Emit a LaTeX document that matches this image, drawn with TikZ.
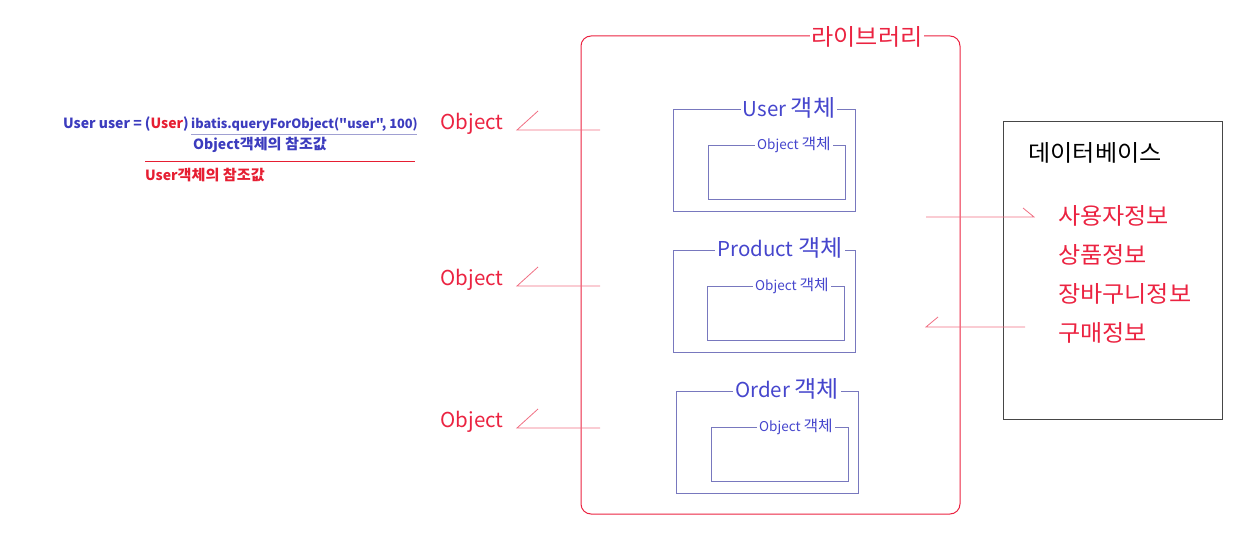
\documentclass[tikz,border=0pt]{standalone}
\usepackage{fontspec}
\setmainfont{Noto Sans CJK KR}
\newfontfamily\ko{Noto Sans CJK KR}[Scale=1.12, FakeStretch=1.05]
\newfontfamily\kos{Noto Sans CJK KR}[Scale=1.04, FakeStretch=1.04]
\newfontfamily\codefont{Noto Sans CJK KR}[Ligatures=TeXOff]
\definecolor{libred}{RGB}{235,35,65}
\definecolor{pinkline}{RGB}{240,110,130}
\definecolor{objblue}{RGB}{70,70,205}
\definecolor{boxline}{RGB}{120,120,190}
\definecolor{codeblue}{RGB}{60,60,190}
\definecolor{codered}{RGB}{230,30,50}
\definecolor{dbgray}{RGB}{70,70,70}

\begin{document}
\begin{tikzpicture}[x=1pt, y=-1pt,
  bigtext/.style={inner sep=2pt, font=\fontsize{20.5}{23}\selectfont},
  boxtitle/.style={bigtext, fill=white, text=objblue},
  smalltitle/.style={fill=white, inner sep=2pt, text=objblue, font=\fontsize{13.5}{15}\selectfont},
  codetext/.style={inner sep=0pt, anchor=base west, font=\bfseries\fontsize{14}{16}\selectfont},
  objbox/.style={draw=boxline, line width=0.8pt},
  pink/.style={draw=pinkline, line width=0.8pt}]

  \useasboundingbox (0,0) rectangle (1251,540);

  % Code line with references
  \node[codetext, text=codeblue] (cast) at (63,129)
    {User user = (\textcolor{codered}{User})};
  \node[codetext, text=codeblue, font=\codefont\bfseries\fontsize{12.8}{16}\selectfont] (call) at (191,129)
    {ibatis.queryForObject("user", 100)};
  \coordinate (callL) at (191,135);
  \coordinate (callR) at (417,135);
  \draw[boxline!70, line width=1pt] (callL) -- (callR);
  \node[codetext, text=codeblue] (objref) at (193,150) {Object{\kos 객체의 참조값}};
  \coordinate (castL) at (145,161);
  \coordinate (castR) at (415,161);
  \draw[codered, line width=0.8pt] (castL) -- (castR);
  \node[codetext, text=codered] (userref) at (145,181) {User{\kos 객체의 참조값}};

  % Library
  \draw[libred, line width=1pt, rounded corners=10pt] (581,36) rectangle (960,514);
  \node[bigtext, fill=white, text=libred] (lib) at (867,37) {\ko 라이브러리};

  % User
  \draw[objbox] (673,109) rectangle (855,211);
  \node[boxtitle] (user) at (789,108) {User {\ko 객체}};
  \draw[objbox] (708,145) rectangle (845,199);
  \node[smalltitle] (userobj) at (794,145) {Object {\ko 객체}};

  % Product
  \draw[objbox] (673,250) rectangle (855,352);
  \node[boxtitle] (product) at (780,248) {Product {\ko 객체}};
  \draw[objbox] (707,286) rectangle (844,340);
  \node[smalltitle] (productobj) at (792,286) {Object {\ko 객체}};

  % Order
  \draw[objbox] (676,391) rectangle (858,493);
  \node[boxtitle] (order) at (787,389) {Order {\ko 객체}};
  \draw[objbox] (711,427) rectangle (848,481);
  \node[smalltitle] (orderobj) at (796,427) {Object {\ko 객체}};

  % Object labels
  \node[bigtext, text=libred] (obj1) at (472,124) {Object};
  \node[bigtext, text=libred] (obj2) at (472,280) {Object};
  \node[bigtext, text=libred] (obj3) at (472,422) {Object};
  \coordinate (in1) at (600,130);
  \coordinate (in2) at (600,286);
  \coordinate (in3) at (600,428);
  \coordinate (tip1) at (517,130);
  \coordinate (tip2) at (517,286);
  \coordinate (tip3) at (517,428);
  \draw[pink] (in1) -- (tip1) -- ++(21,-19);
  \draw[pink] (in2) -- (tip2) -- ++(21,-19);
  \draw[pink] (in3) -- (tip3) -- ++(21,-19);

  % Database
  \draw[dbgray, line width=0.8pt] (1003,121) rectangle (1222,419);
  \node[bigtext] (db) at (1095,153) {\ko 데이터베이스};
  \node[bigtext, text=libred, anchor=west] (info1) at (1056,216) {\ko 사용자정보};
  \node[bigtext, text=libred, anchor=west] (info2) at (1056,255) {\ko 상품정보};
  \node[bigtext, text=libred, anchor=west] (info3) at (1056,294) {\ko 장바구니정보};
  \node[bigtext, text=libred, anchor=west] (info4) at (1056,333) {\ko 구매정보};
  \coordinate (out1) at (926,217);
  \coordinate (dbtip1) at (1034,217);
  \coordinate (dbout) at (1025,327);
  \coordinate (libtip) at (926,327);
  \draw[pink] (out1) -- (dbtip1) -- ++(-11,-9);
  \draw[pink] (dbout) -- (libtip) -- ++(12,-10);

\end{tikzpicture}
\end{document}
